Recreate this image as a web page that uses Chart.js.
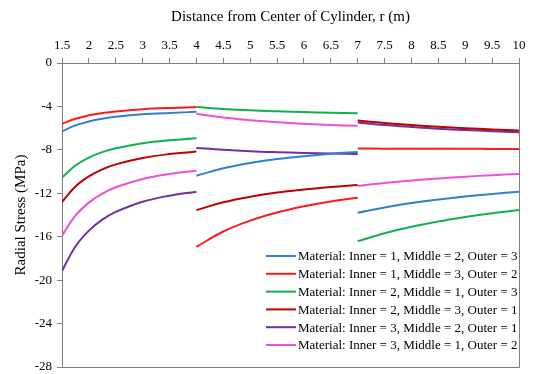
<!DOCTYPE html>
<html lang="en">
<head>
  <meta charset="UTF-8">
  <title>Radial Stress</title>
  <script src="https://cdn.jsdelivr.net/npm/chart.js"></script>
  <style>
    * { box-sizing: border-box; margin: 0; padding: 0; }
    body { background: #fff; }
  </style>
</head>
<body>
  <canvas id="stress" width="533" height="374"></canvas>
  <script>
    // radius samples for the three cylinder layers
    const rInner  = [1.5, 1.75, 2, 2.25, 2.5, 3, 3.5, 4];
    const rMiddle = [4, 4.5, 5, 5.5, 6, 6.5, 7];
    const rOuter  = [7, 7.5, 8, 8.5, 9, 9.5, 10];

    const xTicks = [1.5, 2, 2.5, 3, 3.5, 4, 4.5, 5, 5.5, 6, 6.5, 7, 7.5, 8, 8.5, 9, 9.5, 10];
    const yTicks = [0, -4, -8, -12, -16, -20, -24, -28];

    const labels = [
      'Material: Inner = 1, Middle = 2, Outer = 3',
      'Material: Inner = 1, Middle = 3, Outer = 2',
      'Material: Inner = 2, Middle = 1, Outer = 3',
      'Material: Inner = 2, Middle = 3, Outer = 1',
      'Material: Inner = 3, Middle = 2, Outer = 1',
      'Material: Inner = 3, Middle = 1, Outer = 2'
    ];

    // radial stress (MPa): [inner, middle, outer]
    const m123 = [
      [-6.30, -5.75, -5.39, -5.14, -4.96, -4.73, -4.60, -4.50],
      [-10.38, -9.70, -9.21, -8.85, -8.58, -8.36, -8.19],
      [-13.79, -13.30, -12.90, -12.57, -12.29, -12.06, -11.85]
    ];
    const m132 = [
      [-5.60, -5.13, -4.82, -4.61, -4.46, -4.26, -4.14, -4.06],
      [-16.93, -15.52, -14.52, -13.77, -13.20, -12.76, -12.41],
      [-7.88, -7.89, -7.89, -7.90, -7.90, -7.91, -7.91]
    ];
    const m213 = [
      [-10.55, -9.44, -8.71, -8.21, -7.86, -7.39, -7.11, -6.93],
      [-4.06, -4.23, -4.36, -4.45, -4.52, -4.58, -4.62],
      [-16.41, -15.68, -15.09, -14.60, -14.19, -13.84, -13.55]
    ];
    const m231 = [
      [-12.80, -11.37, -10.44, -9.80, -9.34, -8.75, -8.39, -8.16],
      [-13.55, -12.83, -12.32, -11.93, -11.65, -11.42, -11.24],
      [-5.30, -5.53, -5.72, -5.88, -6.01, -6.12, -6.22]
    ];
    const m321 = [
      [-19.15, -16.90, -15.44, -14.43, -13.72, -12.78, -12.22, -11.85],
      [-7.82, -7.99, -8.12, -8.21, -8.28, -8.34, -8.38],
      [-5.48, -5.71, -5.89, -6.05, -6.17, -6.28, -6.37]
    ];
    const m312 = [
      [-15.90, -14.05, -12.86, -12.03, -11.45, -10.68, -10.22, -9.92],
      [-4.68, -5.03, -5.27, -5.46, -5.60, -5.71, -5.79],
      [-11.33, -11.05, -10.82, -10.63, -10.47, -10.33, -10.22]
    ];

    const seriesData = [m123, m132, m213, m231, m321, m312];
    const colors = ['#2f80d0', '#ff1a1a', '#12b04c', '#c00000', '#7030a0', '#ee50d8'];

    // join the three layers into one list, with a gap at each interface
    function toPoints(s) {
      const pts = [];
      [rInner, rMiddle, rOuter].forEach((rs, k) => {
        if (k > 0) pts.push({ x: rs[0], y: null });
        rs.forEach((r, i) => pts.push({ x: r, y: s[k][i] }));
      });
      return pts;
    }

    const serif = "'Liberation Serif', 'Times New Roman', serif";

    // right and bottom edges of the plot box
    const plotBox = {
      id: 'plotBox',
      beforeDatasetsDraw(chart) {
        const { ctx, chartArea: a } = chart;
        ctx.save();
        ctx.strokeStyle = '#7f7f7f';
        ctx.lineWidth = 1;
        ctx.beginPath();
        ctx.moveTo(Math.round(a.right) + 0.5, a.top);
        ctx.lineTo(Math.round(a.right) + 0.5, Math.round(a.bottom) + 0.5);
        ctx.lineTo(a.left, Math.round(a.bottom) + 0.5);
        ctx.stroke();
        ctx.restore();
      }
    };

    // legend placed inside the plot, lower right
    const innerLegend = {
      id: 'innerLegend',
      afterDatasetsDraw(chart) {
        const { ctx } = chart;
        ctx.save();
        ctx.font = '13px ' + serif;
        ctx.textBaseline = 'middle';
        ctx.fillStyle = '#000';
        chart.data.datasets.forEach((ds, i) => {
          const y = 256 + i * 17.8;
          ctx.strokeStyle = ds.borderColor;
          ctx.lineWidth = 2;
          ctx.beginPath();
          ctx.moveTo(266, y);
          ctx.lineTo(296, y);
          ctx.stroke();
          ctx.fillText(ds.label, 298, y + 1);
        });
        ctx.restore();
      }
    };

    new Chart(document.getElementById('stress'), {
      type: 'line',
      data: {
        datasets: seriesData.map((s, i) => ({
          label: labels[i],
          data: toPoints(s),
          borderColor: colors[i],
          backgroundColor: colors[i],
          borderWidth: 2,
          pointRadius: 0,
          tension: 0.4,
          spanGaps: false
        }))
      },
      options: {
        responsive: false,
        animation: false,
        devicePixelRatio: 1,
        layout: { padding: { top: 0, right: 14, bottom: 7, left: 0 } },
        plugins: { legend: { display: false }, tooltip: { enabled: false } },
        scales: {
          x: {
            type: 'linear',
            position: 'top',
            min: 1.5,
            max: 10,
            afterBuildTicks: s => { s.ticks = xTicks.map(v => ({ value: v })); },
            afterFit: s => { s.height = 63; s.paddingLeft = 0; s.paddingRight = 0; },
            ticks: {
              autoSkip: false,
              maxRotation: 0,
              callback: v => String(v),
              color: '#000',
              font: { family: serif, size: 13 },
              padding: 5
            },
            grid: { drawOnChartArea: false, tickLength: 5, color: '#7f7f7f' },
            border: { color: '#7f7f7f' },
            title: {
              display: true,
              text: 'Distance from Center of Cylinder, r (m)',
              color: '#000',
              font: { family: serif, size: 15 },
              padding: { top: 8, bottom: 0 }
            }
          },
          y: {
            min: -28,
            max: 0,
            afterBuildTicks: s => { s.ticks = yTicks.map(v => ({ value: v })); },
            afterFit: s => { s.width = 62; s.paddingTop = 0; s.paddingBottom = 0; },
            ticks: {
              autoSkip: false,
              callback: v => String(v),
              color: '#000',
              font: { family: serif, size: 13 },
              padding: 5
            },
            grid: { drawOnChartArea: false, tickLength: 5, color: '#7f7f7f' },
            border: { color: '#7f7f7f' },
            title: {
              display: true,
              text: 'Radial Stress (MPa)',
              color: '#000',
              font: { family: serif, size: 15 },
              padding: { top: 12, bottom: 0 }
            }
          }
        }
      },
      plugins: [plotBox, innerLegend]
    });
  </script>
</body>
</html>
